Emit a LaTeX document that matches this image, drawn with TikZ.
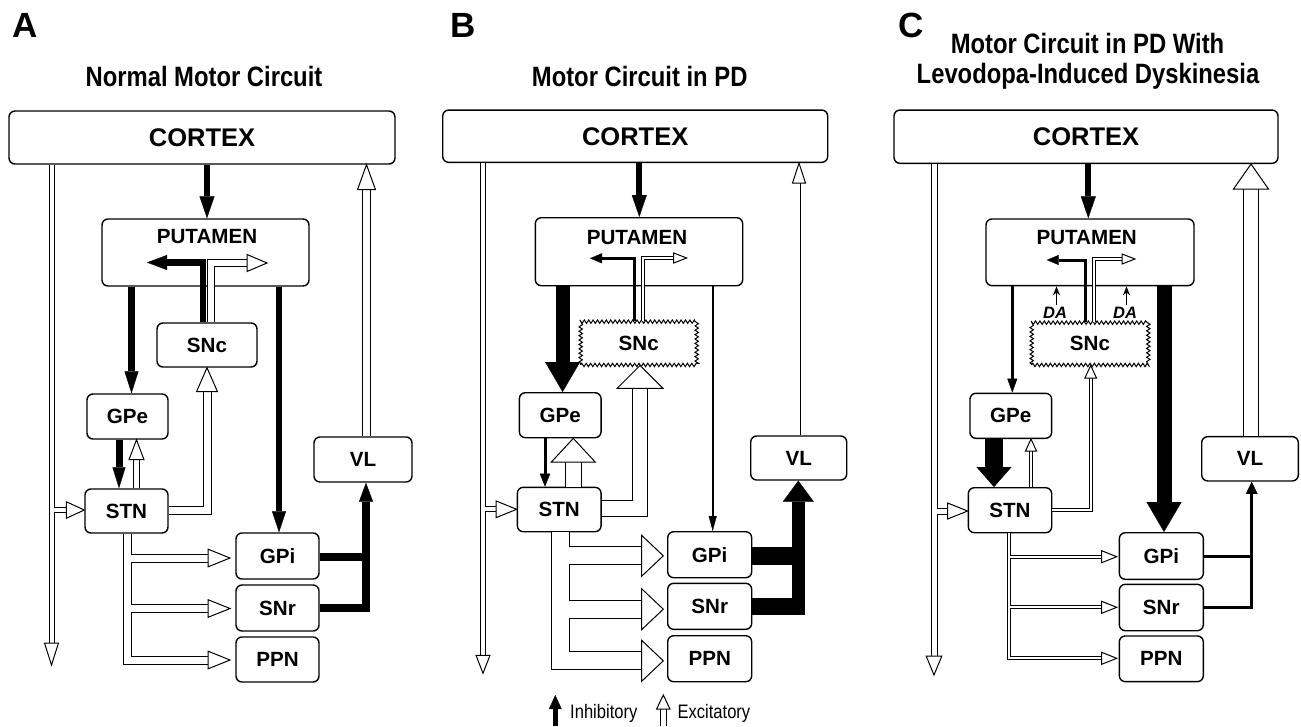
\documentclass[tikz,border=0pt]{standalone}
\usepackage{fontspec}
\setmainfont{Liberation Sans}
\newfontfamily\condf[FakeStretch=0.85]{Liberation Sans}
\usetikzlibrary{arrows.meta,decorations.pathmorphing,calc}
\newcommand\bxf{\fontsize{20.6}{24}\selectfont\bfseries}
\newcommand\ctxf{\fontsize{25.5}{30}\selectfont\bfseries}
\newcommand\ttlf{\condf\fontsize{28}{32}\selectfont\bfseries}
\newcommand\letf{\fontsize{35}{40}\selectfont\bfseries}
\newcommand\legf{\condf\fontsize{19.5}{22}\selectfont}
\newcommand\daf{\fontsize{16.5}{19}\selectfont\bfseries\itshape}
\tikzset{
  box/.style={draw, line width=1.4pt, rounded corners=6pt, font=\bxf, inner sep=0pt, text depth=0pt},
  sncbox/.style={draw, line width=1pt, decorate, decoration={zigzag, segment length=4.4pt, amplitude=1.7pt}, font=\bxf, inner sep=0pt, text depth=0pt},
  lbl/.style={font=\bxf, inner sep=0pt, text depth=0pt},
  letter/.style={font=\letf, anchor=base west, inner sep=0pt},
  ttl/.style={font=\ttlf, anchor=base, inner sep=0pt},
  leg/.style={font=\legf, anchor=base west, inner sep=0pt},
  inh/.style n args={3}{draw=black, line width=#1, -{Triangle[width=#2, length=#3, line width'=0.3pt]}},
  exo/.style={draw=black, line width=#1},
  exi/.style={draw=white, line width=#1},
  htip/.style={fill=white, draw=black, line width=1pt, line join=miter},
  da/.style={line width=1.4pt, -{Stealth[length=9pt, width=7pt]}},
}
% hollow (excitatory) band: outer width, inner width, shortening, path
\newcommand\hol[4]{\draw[exo=#1, shorten >=#3] #4; \draw[exi=#2, shorten >=#3] #4;}
% hollow arrow heads: tip point, width, length
\newcommand\tipU[3]{\filldraw[htip] #1 -- ++({-#2/2},#3) -- ++(#2,0) -- cycle;}
\newcommand\tipD[3]{\filldraw[htip] #1 -- ++({-#2/2},{-#3}) -- ++(#2,0) -- cycle;}
\newcommand\tipR[3]{\filldraw[htip] #1 -- ++({-#3},{-#2/2}) -- ++(0,#2) -- cycle;}
\begin{document}
\begin{tikzpicture}[x=1pt, y=-1pt]
\useasboundingbox (0,0) rectangle (1301,726);
% ================= PANEL A =================
\node[letter] (aLet) at (12,37) {A};
\node[ttl] (aTtl) at (204,86) {Normal Motor Circuit};
\node[box, font=\ctxf, minimum width=386, minimum height=53] (aCtx) at (202,137.5) {CORTEX};
\node[box, minimum width=207, minimum height=67] (aPut) at (205.5,252.5) {};
\node[lbl] (aPutL) at (207,236) {PUTAMEN};
\node[box, minimum width=100, minimum height=44] (aSNc) at (207,345) {SNc};
\node[box, minimum width=81, minimum height=45] (aGPe) at (127.5,416.5) {GPe};
\node[box, minimum width=83, minimum height=44] (aSTN) at (126.5,511) {STN};
\node[box, minimum width=83, minimum height=46] (aGPi) at (277.5,556) {GPi};
\node[box, minimum width=83, minimum height=46] (aSNr) at (277.5,608) {SNr};
\node[box, minimum width=83, minimum height=45] (aPPN) at (277.5,659.5) {PPN};
\node[box, minimum width=98, minimum height=45] (aVL) at (363,459.5) {VL};
\draw[inh={6pt}{15pt}{22pt}] (aCtx.south -| 207,0) -- (aPut.north -| 207,0);
\draw[inh={6.5pt}{15pt}{20pt}] (203,0 |- aSNc.north) -- (203,262.5) -- (147,262.5);
\hol{7.5pt}{5.5pt}{19pt}{(210.8,0 |- aSNc.north) -- (210.8,263) -- (267,263)}
\tipR{(267,263)}{17}{20}
\draw[inh={6.5pt}{14pt}{22pt}] (131.5,0 |- aPut.south) -- (131.5,0 |- aGPe.north);
\draw[inh={6pt}{14pt}{21pt}] (279,0 |- aPut.south) -- (279,0 |- aGPi.north);
\draw[inh={7pt}{13pt}{21pt}] (119,0 |- aGPe.south) -- (119,0 |- aSTN.north);
\hol{7pt}{5pt}{19pt}{(136.5,0 |- aSTN.north) -- (136.5,0 |- aGPe.south)}
\tipU{(136.5,0 |- aGPe.south)}{15}{20}
\hol{9pt}{7pt}{23pt}{(aSTN.east |- 0,510) -- (207,510) -- (aSNc.south)}
\tipU{(aSNc.south)}{21}{24}
\hol{6pt}{4pt}{21pt}{(51.5,0 |- aCtx.south) -- (51.5,665)}
\tipD{(51.5,665)}{14}{22}
\hol{6.5pt}{4.5pt}{17pt}{(53.5,510) -- (aSTN.west |- 0,510)}
\tipR{(aSTN.west |- 0,510)}{16.5}{18}
\hol{9pt}{7pt}{0pt}{(127.8,0 |- aSTN.south) -- (127.8,660) -- (212,660)
   (127.8,558) -- (212,558) (127.8,608.5) -- (212,608.5)}
\tipR{(230,558)}{17.7}{22}
\tipR{(230,608.5)}{17.7}{22}
\tipR{(230,660)}{17.7}{22}
\draw[line width=8pt] (aGPi.east |- 0,557) -- (366,557);
\draw[inh={8pt}{14pt}{19pt}] (aSNr.east |- 0,608) -- (366,608) -- (366,0 |- aVL.south);
\hol{9pt}{7pt}{24pt}{(366.5,0 |- aVL.north) -- (366.5,0 |- aCtx.south)}
\tipU{(366.5,0 |- aCtx.south)}{18}{25}
% ================= PANEL B =================
\node[letter] (bLet) at (450.7,37) {B};
\node[ttl] (bTtl) at (639.7,86) {Motor Circuit in PD};
\node[box, font=\ctxf, minimum width=385, minimum height=52.3] (bCtx) at (635.2,136.2) {CORTEX};
\node[box, minimum width=207.4, minimum height=68] (bPut) at (639,251.7) {};
\node[lbl] (bPutL) at (637,237) {PUTAMEN};
\node[sncbox, minimum width=116, minimum height=43.3] (bSNc) at (638.7,343.3) {SNc};
\node[box, minimum width=81.7, minimum height=45] (bGPe) at (560.2,415.2) {GPe};
\node[box, minimum width=83.7, minimum height=44.4] (bSTN) at (559.2,509.5) {STN};
\node[box, minimum width=84, minimum height=46] (bGPi) at (709.7,554.7) {GPi};
\node[box, minimum width=84, minimum height=46] (bSNr) at (709.7,606.3) {SNr};
\node[box, minimum width=84, minimum height=46] (bPPN) at (709.7,658.7) {PPN};
\node[box, minimum width=96, minimum height=44] (bVL) at (798.7,458) {VL};
\draw[inh={6pt}{15pt}{22pt}] (bCtx.south -| 639.3,0) -- (bPut.north -| 639.3,0);
\draw[inh={3pt}{10pt}{12pt}] (634,0 |- bSNc.north) -- (634,258.3) -- (590,258.3);
\hol{3.5pt}{1.5pt}{12pt}{(643,0 |- bSNc.north) -- (643,258) -- (686.7,258)}
\tipR{(686.7,258)}{10}{13}
\draw[inh={14pt}{35pt}{30pt}] (562.6,0 |- bPut.south) -- (562.6,0 |- bGPe.north);
\draw[inh={2pt}{8pt}{15pt}] (712.7,0 |- bPut.south) -- (712.7,0 |- bGPi.north);
\draw[inh={3pt}{10.5pt}{13pt}] (545,0 |- bGPe.south) -- (545,0 |- bSTN.north);
\hol{16.7pt}{14.7pt}{22.7pt}{(573.3,0 |- bSTN.north) -- (573.3,0 |- bGPe.south)}
\tipU{(573.3,0 |- bGPe.south)}{44}{23.7}
\hol{16.7pt}{14.7pt}{22pt}{(bSTN.east |- 0,508.3) -- (640,508.3) -- (640,0 |- bSNc.south)}
\tipU{(640,0 |- bSNc.south)}{46}{23}
\hol{6pt}{4pt}{17pt}{(483,0 |- bCtx.south) -- (483,673.3)}
\tipD{(483,673.3)}{14}{18}
\hol{6pt}{4pt}{19.6pt}{(485,509.3) -- (bSTN.west |- 0,509.3)}
\tipR{(bSTN.west |- 0,509.3)}{16.7}{20.6}
\hol{19.3pt}{17.3pt}{0pt}{(560.3,0 |- bSTN.south) -- (560.3,660.8) -- (646,660.8)
   (560.3,555.8) -- (646,555.8) (560.3,609.2) -- (646,609.2)}
\tipR{(663.3,555.8)}{41}{21.7}
\tipR{(663.3,609.2)}{41}{21.7}
\tipR{(663.3,660.8)}{41}{21.7}
\draw[line width=18pt] (bGPi.east |- 0,555.8) -- (798.3,555.8);
\draw[line width=17pt] (bSNr.east |- 0,606.5) -- (805,606.5);
\draw[inh={13.3pt}{31pt}{21pt}] (798.3,615) -- (798.3,0 |- bVL.south);
\hol{3pt}{1.2pt}{19pt}{(799,0 |- bVL.north) -- (799,0 |- bCtx.south)}
\tipU{(799,0 |- bCtx.south)}{13}{20}
% legend
\coordinate (legIa) at (555.3,726);
\coordinate (legIb) at (555.3,695);
\coordinate (legEa) at (663.3,726);
\coordinate (legEb) at (663.3,695);
\draw[inh={5pt}{12.7pt}{14pt}] (legIa) -- (legIb);
\node[leg] (legI) at (570,718) {Inhibitory};
\hol{6.5pt}{4.5pt}{13pt}{(legEa) -- (legEb)}
\tipU{(legEb)}{13.3}{14}
\node[leg] (legE) at (677.3,718) {Excitatory};
% ================= PANEL C =================
\node[letter] (cLet) at (898,37) {C};
\node[ttl] (cTtl1) at (1087.5,53) {Motor Circuit in PD With};
\node[ttl] (cTtl2) at (1088,83.3) {Levodopa-Induced Dyskinesia};
\node[box, font=\ctxf, minimum width=384, minimum height=53.3] (cCtx) at (1086,136.7) {CORTEX};
\node[box, minimum width=208, minimum height=66.7] (cPut) at (1090,252.3) {};
\node[lbl] (cPutL) at (1086.7,237.3) {PUTAMEN};
\node[sncbox, minimum width=116.6, minimum height=42.3] (cSNc) at (1090,343.8) {SNc};
\node[box, minimum width=81.7, minimum height=45] (cGPe) at (1010.8,415.8) {GPe};
\node[box, minimum width=83.4, minimum height=45] (cSTN) at (1010,510.2) {STN};
\node[box, minimum width=84, minimum height=46.6] (cGPi) at (1161.3,556) {GPi};
\node[box, minimum width=84, minimum height=46.4] (cSNr) at (1161.3,607.5) {SNr};
\node[box, minimum width=84, minimum height=45.7] (cPPN) at (1161.3,658.8) {PPN};
\node[box, minimum width=96.6, minimum height=44.3] (cVL) at (1250,458.8) {VL};
\node[font=\daf, inner sep=0pt, text depth=0pt] (cDA1) at (1055,312.5) {DA};
\node[font=\daf, inner sep=0pt, text depth=0pt] (cDA2) at (1125,312.5) {DA};
\draw[da] ([xshift=1.5pt, yshift=1.5pt]cDA1.north) -- (1056.5,0 |- cPut.south);
\draw[da] ([xshift=1.5pt, yshift=1.5pt]cDA2.north) -- (1126.5,0 |- cPut.south);
\draw[inh={6pt}{15pt}{22pt}] (cCtx.south -| 1088.3,0) -- (cPut.north -| 1088.3,0);
\draw[inh={3pt}{10pt}{12pt}] (1085,0 |- cSNc.north) -- (1085,260) -- (1046.7,260);
\hol{3.5pt}{1.5pt}{12pt}{(1094,0 |- cSNc.north) -- (1094,259) -- (1135,259)}
\tipR{(1135,259)}{10}{13}
\draw[inh={3pt}{10pt}{14pt}] (1012.3,0 |- cPut.south) -- (1012.3,0 |- cGPe.north);
\draw[inh={15pt}{35pt}{30pt}] (1164,0 |- cPut.south) -- (1164,0 |- cGPi.north);
\draw[inh={18pt}{35pt}{20pt}] (994,0 |- cGPe.south) -- (994,0 |- cSTN.north);
\hol{4pt}{2pt}{11pt}{(1031,0 |- cSTN.north) -- (1031,0 |- cGPe.south)}
\tipU{(1031,0 |- cGPe.south)}{11}{12}
\hol{4pt}{2pt}{11.7pt}{(cSTN.east |- 0,510) -- (1090.7,510) -- (1090.7,0 |- cSNc.south)}
\tipU{(1090.7,0 |- cSNc.south)}{11.7}{12.7}
\hol{7pt}{5pt}{18pt}{(934,0 |- cCtx.south) -- (934,675)}
\tipD{(934,675)}{15.7}{19}
\hol{7pt}{5pt}{19pt}{(936.5,511) -- (cSTN.west |- 0,511)}
\tipR{(cSTN.west |- 0,511)}{16}{20}
\hol{4.3pt}{2.3pt}{0pt}{(1009.3,0 |- cSTN.south) -- (1009.3,658.3) -- (1106,658.3)
   (1009.3,556.7) -- (1106,556.7) (1009.3,607.3) -- (1106,607.3)}
\tipR{(1116.7,556.7)}{12}{15}
\tipR{(1116.7,607.3)}{12}{15}
\tipR{(1116.7,658.3)}{12}{15}
\draw[line width=3pt] (cGPi.east |- 0,556.7) -- (1251.7,556.7);
\draw[inh={3pt}{11.7pt}{12.3pt}] (cSNr.east |- 0,607.3) -- (1251.7,607.3) -- (1251.7,0 |- cVL.south);
\hol{16.7pt}{14.7pt}{24pt}{(1251,0 |- cVL.north) -- (1251,0 |- cCtx.south)}
\tipU{(1251,0 |- cCtx.south)}{35}{25}
\end{tikzpicture}
\end{document}
